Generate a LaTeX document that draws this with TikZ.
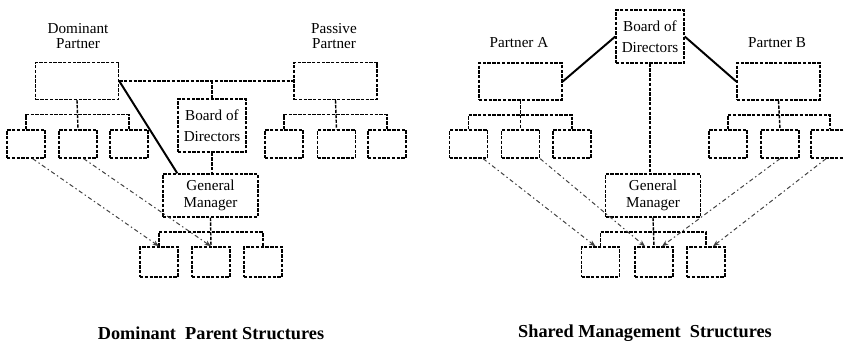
\documentclass[tikz,border=0pt]{standalone}
\usepackage{fontspec}
\setmainfont{Liberation Serif}
\usetikzlibrary{positioning, arrows.meta, calc}

\begin{document}
\begin{tikzpicture}[x=0.25mm, y=-0.25mm,
    unitbox/.style={rectangle, draw=black, line width=1pt, dash pattern=on 2.4pt off 1pt,
                    minimum width=9.5mm, minimum height=7mm, inner sep=0pt},
    partnerbox/.style={unitbox, minimum width=20.75mm, minimum height=9.25mm},
    boardbox/.style={unitbox, minimum width=17mm, minimum height=13.25mm, align=center,
                     font=\fontsize{10.8}{15}\selectfont},
    gmbox/.style={unitbox, minimum width=23.75mm, minimum height=10.75mm, align=center,
                  font=\fontsize{10.8}{12.5}\selectfont},
    partnertext/.style={align=center, font=\fontsize{10.8}{10.5}\selectfont},
    branch/.style={line width=1pt, dash pattern=on 2.4pt off 1pt},
    solidlink/.style={line width=1.4pt},
    influence/.style={-{Stealth[length=1.6mm, width=1.2mm]}, line width=0.7pt, black!75,
                      dash pattern=on 3pt off 2pt on 1pt off 2pt},
    titletext/.style={font=\fontsize{13}{15}\selectfont\bfseries}
]
    \useasboundingbox (0,0) rectangle (844,349);

    % Dominant parent: partners
    \node[partnertext] (domText) at (78,36) {Dominant\\Partner};
    \node[partnertext] (pasText) at (334,36) {Passive\\Partner};
    \node[partnerbox] (dom) at (77,81) {};
    \node[partnerbox] (pas) at (335.5,81) {};
    \node[boardbox] (bodL) at (212,125.5) {Board of\\Directors};
    \node[gmbox] (gmL) at (210.5,195.5) {General\\Manager};

    % Dominant parent: units
    \node[unitbox] (dc1) at (26,144) {};
    \node[unitbox] (dc2) at (78,144) {};
    \node[unitbox] (dc3) at (129,144) {};
    \node[unitbox] (pc1) at (284,144) {};
    \node[unitbox] (pc2) at (336.5,144) {};
    \node[unitbox] (pc3) at (387,144) {};
    \node[unitbox, minimum height=7.5mm] (gc1) at (159,262) {};
    \node[unitbox, minimum height=7.5mm] (gc2) at (211,262) {};
    \node[unitbox, minimum height=7.5mm] (gc3) at (263,262) {};

    % Dominant parent: links
    \draw[branch] (dom.east) -- (pas.west);
    \draw[branch] (bodL.north) -- (bodL.north |- dom.east);
    \draw[branch] (bodL.south) -- (bodL.south |- gmL.north);
    \draw[solidlink] (dom.east) -- ([xshift=3.75mm]gmL.north west);

    \coordinate (domBar) at ($(dom.south)!0.5!(dc2.north)$);
    \draw[branch] (dom.south) -- (domBar);
    \draw[branch] (dc1.north) |- (domBar) -| (dc3.north);
    \draw[branch] (domBar) -- (dc2.north);

    \coordinate (pasBar) at ($(pas.south)!0.5!(pc2.north)$);
    \draw[branch] (pas.south) -- (pasBar);
    \draw[branch] (pc1.north) |- (pasBar) -| (pc3.north);
    \draw[branch] (pasBar) -- (pc2.north);

    \coordinate (gmLBar) at ($(gmL.south)!0.5!(gc2.north)$);
    \draw[branch] (gmL.south) -- (gmLBar);
    \draw[branch] (gc1.north) |- (gmLBar) -| (gc3.north);
    \draw[branch] (gmLBar) -- (gc2.north);

    \draw[influence] ([xshift=-3.25mm]dc1.south east) -- (gc1.north);
    \draw[influence] ([xshift=-3.5mm]dc2.south east) -- (gc2.north);

    % Shared management: partners
    \node[partnertext] (aText) at (519,43) {Partner A};
    \node[partnertext] (bText) at (777,43) {Partner B};
    \node[partnerbox] (paA) at (520.5,81.5) {};
    \node[partnerbox] (paB) at (778.5,81.5) {};
    \node[boardbox] (bodR) at (650,36.5) {Board of\\Directors};
    \node[gmbox] (gmR) at (653,195.5) {General\\Manager};

    % Shared management: units
    \node[unitbox] (ac1) at (468.5,144) {};
    \node[unitbox] (ac2) at (520.5,144) {};
    \node[unitbox] (ac3) at (572,144) {};
    \node[unitbox] (bc1) at (728,144) {};
    \node[unitbox] (bc2) at (780,144) {};
    \node[unitbox] (bc3) at (830,144) {};
    \node[unitbox, minimum height=7.5mm] (rg1) at (600.5,262) {};
    \node[unitbox, minimum height=7.5mm] (rg2) at (654,262) {};
    \node[unitbox, minimum height=7.5mm] (rg3) at (706,262) {};

    % Shared management: links
    \draw[solidlink] (paA.east) -- (bodR.west);
    \draw[solidlink] (bodR.east) -- (paB.west);
    \draw[branch] (bodR.south) -- (bodR.south |- gmR.north);

    \coordinate (paABar) at ($(paA.south)!0.5!(ac2.north)$);
    \draw[branch] (paA.south) -- (paABar);
    \draw[branch] (ac1.north) |- (paABar) -| (ac3.north);
    \draw[branch] (paABar) -- (ac2.north);

    \coordinate (paBBar) at ($(paB.south)!0.5!(bc2.north)$);
    \draw[branch] (paB.south) -- (paBBar);
    \draw[branch] (bc1.north) |- (paBBar) -| (bc3.north);
    \draw[branch] (paBBar) -- (bc2.north);

    \coordinate (gmRBar) at ($(gmR.south)!0.5!(rg2.north)$);
    \draw[branch] (gmR.south) -- (gmRBar);
    \draw[branch] (rg1.north) |- (gmRBar) -| (rg3.north);
    \draw[branch] (gmRBar) -- (rg2.north);

    \draw[influence] ([xshift=-1.25mm]ac1.south east) -- ([xshift=-1.25mm]rg1.north);
    \draw[influence] (ac2.south east) -- ([xshift=-2.25mm]rg2.north);
    \draw[influence] (bc2.south) -- ([xshift=2mm]rg2.north);
    \draw[influence] ([xshift=-1mm]bc3.south) -- ([xshift=1.75mm]rg3.north);

    % Titles
    \node[titletext] (titleL) at (211,333) {Dominant\ \ Parent Structures};
    \node[titletext] (titleR) at (645,333) {Shared Management\ \ Structures};

\end{tikzpicture}
\end{document}
